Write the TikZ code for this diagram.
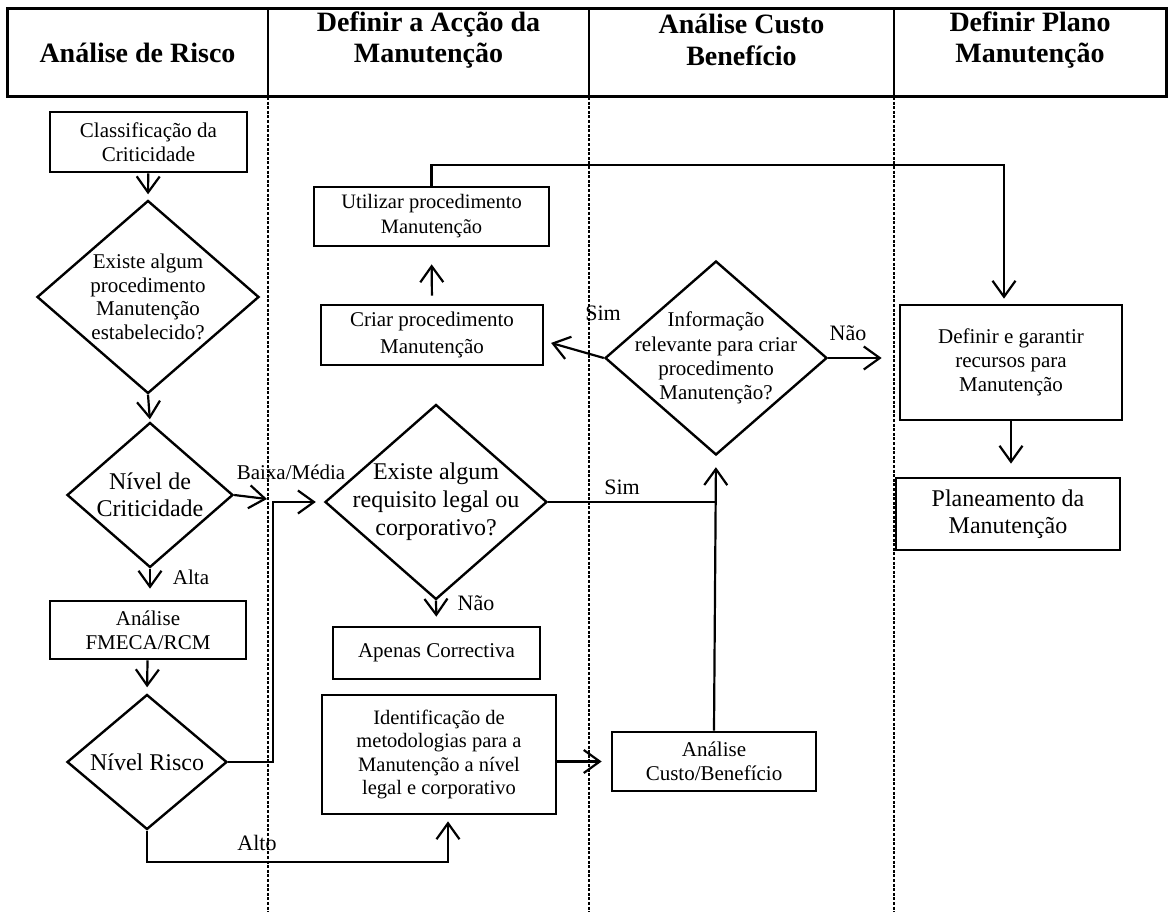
\documentclass[tikz,border=0pt]{standalone}
\usepackage{fontspec}
\setmainfont{Liberation Serif}
\usetikzlibrary{shapes.geometric,arrows.meta}
\begin{document}
\begin{tikzpicture}[x=1pt,y=-1pt,
  box/.style={draw, line width=2.7pt, rectangle, inner sep=0pt, align=center,
    font=\fontsize{21}{24}\selectfont},
  dia/.style={draw, line width=2.4pt, diamond, inner sep=0pt},
  dtext/.style={align=center, inner sep=0pt, font=\fontsize{21}{23.5}\selectfont},
  lab/.style={inner sep=0pt, font=\fontsize{22}{26}\selectfont},
  head/.style={align=center, inner sep=0pt, font=\bfseries\fontsize{28}{31.5}\selectfont},
  conn/.style={line width=2.2pt},
  arr/.style={conn, -{Straight Barb[length=16pt,width=23pt,line width=2.2pt]}},
  lane/.style={line width=1.3pt, dash pattern=on 3pt off 1.6pt},
]
\useasboundingbox (0,0) rectangle (1171,912);

% swimlane header
\draw[line width=3pt] (7,9) rectangle (1166,97);
\foreach \lx in {268,589,894} {
  \draw[line width=2.4pt] (\lx,9) -- (\lx,97);
  \draw[lane] (\lx,97) -- (\lx,912);
}
\node[head] (h1) at (137.5,53) {Análise de Risco};
\node[head] (h2) at (428.5,40) {Definir a Acção da\\Manutenção};
\node[head] (h3) at (741.5,40) {Análise Custo\\Benefício};
\node[head] (h4) at (1030,40) {Definir Plano\\Manutenção};

% process boxes
\node[box, minimum width=197pt, minimum height=60pt] (cls) at (148.5,142) {Classificação da\\Criticidade};
\node[box, minimum width=196pt, minimum height=58pt] (fmeca) at (148,630) {Análise\\FMECA/RCM};
\node[box, minimum width=235pt, minimum height=59pt, font=\fontsize{20.5}{25}\selectfont] (util) at (431.5,216.5) {Utilizar procedimento\\Manutenção};
\node[box, minimum width=222pt, minimum height=60pt, font=\fontsize{21}{27}\selectfont] (criar) at (432,335) {Criar procedimento\\Manutenção};
\node[box, minimum width=207pt, minimum height=52pt] (apenas) at (436.5,653) {Apenas Correctiva};
\node[box, minimum width=234pt, minimum height=119pt, font=\fontsize{20.5}{23.3}\selectfont] (ident) at (439,754.5) {Identificação de\\metodologias para a\\Manutenção a nível\\legal e corporativo};
\node[box, minimum width=204pt, minimum height=59pt] (custo) at (714,761.5) {Análise\\Custo/Benefício};
\node[box, minimum width=222pt, minimum height=115pt] (defin) at (1011,362.5) {Definir e garantir\\recursos para\\Manutenção};
\node[box, minimum width=224pt, minimum height=72pt, font=\fontsize{24}{27}\selectfont] (plan) at (1008,514) {Planeamento da\\Manutenção};

% decisions
\node[dia, minimum width=222pt, minimum height=193pt] (d1) at (148,297) {};
\node[dtext] (d1t) at (d1) {Existe algum\\procedimento\\Manutenção\\estabelecido?};
\node[dia, minimum width=166pt, minimum height=145pt] (d2) at (150,495) {};
\node[dtext, font=\fontsize{24}{27}\selectfont] (d2t) at (d2) {Nível de\\Criticidade};
\node[dia, minimum width=160pt, minimum height=135pt] (d3) at (147,762) {};
\node[dtext, font=\fontsize{24}{27}\selectfont] (d3t) at (d3) {Nível Risco};
\node[dia, minimum width=222pt, minimum height=195pt] (d4) at (436,502) {};
\node[dtext, font=\fontsize{24}{28}\selectfont] (d4t) at (d4) {Existe algum\\requisito legal ou\\corporativo?};
\node[dia, minimum width=222pt, minimum height=194pt] (d5) at (716,358) {};
\node[dtext, font=\fontsize{21}{24.3}\selectfont] (d5t) at (d5) {Informação\\relevante para criar\\procedimento\\Manutenção?};

% routing points
\coordinate (bm) at (267,499);
\coordinate (jr) at (273,502);
\coordinate (ja) at (147,862);
\coordinate (jb) at (448,862);
\coordinate (js) at (715,502);
\coordinate (tc) at (1004,165);

% connectors
\draw[arr, shorten >=5pt] (cls) -- (d1.north);
\draw[arr, shorten >=2pt] (d1.south) -- (d2.north);
\draw[arr, shorten >=11pt] (d2.south) -- (d2.south |- fmeca.north);
\draw[arr, shorten >=6pt] (fmeca) -- (d3.north);
\draw[arr] (d2.east) -- (bm);
\draw[arr, shorten >=8pt] (d3.east) -| (jr) -- (d4.west);
\draw[arr, shorten >=6pt] (d3.south) -- (ja) -- (jb) -- (jb |- ident.south);
\draw[arr, shorten >=9pt] (d4.south) -- (apenas.north);
\draw[conn] (d4.east) -- (js);
\draw[arr, shorten >=11pt] (custo.north) -- (d5.south);
\draw[arr, shorten >=9pt] (ident.east |- custo.west) -- (custo.west);
\draw[arr, shorten >=7pt] (d5.west) -- ([yshift=-6pt]criar.east);
\draw[arr, shorten <=8pt, shorten >=17pt] (criar.north) -- (util.south);
\draw[arr, shorten >=5pt] (util.north) |- (tc) -- (tc |- defin.north);
\draw[arr, shorten >=13pt] (defin.south) -- (defin.south |- plan.north);
\draw[arr, shorten >=17pt] (d5.east) -- (d5.east -| defin.west);

% branch labels
\node[lab, font=\fontsize{21}{24}\selectfont] (lalta) at (191,577) {Alta};
\node[lab, font=\fontsize{21}{24}\selectfont] (lbm) at (291,472) {Baixa/Média};
\node[lab] (lalto) at (257,843) {Alto};
\node[lab] (lnao1) at (476,603) {Não};
\node[lab] (lsim1) at (622,487) {Sim};
\node[lab] (lsim2) at (603,313) {Sim};
\node[lab] (lnao2) at (848,333) {Não};
\end{tikzpicture}
\end{document}
